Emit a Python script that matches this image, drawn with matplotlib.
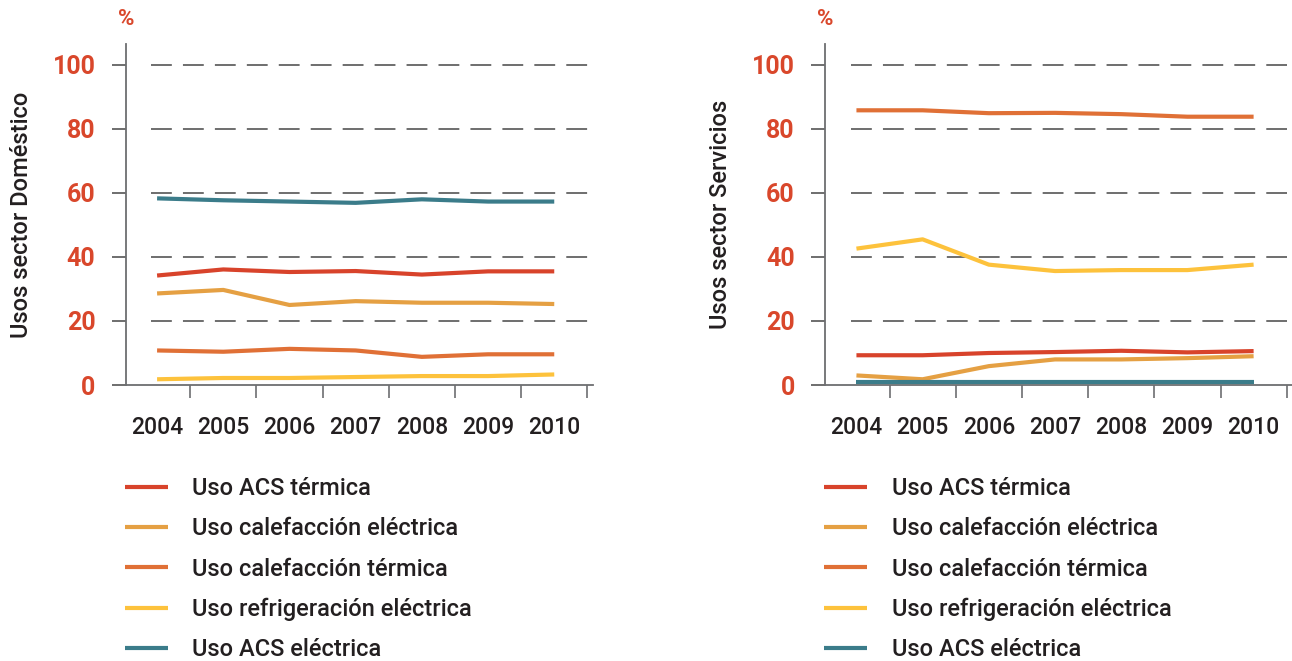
import numpy as np
import matplotlib.pyplot as plt

plt.rcParams['font.family'] = ['Roboto', 'DejaVu Sans']
plt.rcParams['lines.scale_dashes'] = False

years = ['2004', '2005', '2006', '2007', '2008', '2009', '2010']
series_names = ['Uso ACS térmica', 'Uso calefacción eléctrica', 'Uso calefacción térmica',
                'Uso refrigeración eléctrica', 'Uso ACS eléctrica']
colors = ['#d8432b', '#e5a043', '#e07036', '#fdc23c', '#3b7c8a']

# Usos sector Doméstico (%)
dom_acs_termica = [34.2, 36.1, 35.3, 35.6, 34.5, 35.5, 35.5]
dom_calef_electrica = [28.6, 29.7, 25.0, 26.2, 25.7, 25.7, 25.3]
dom_calef_termica = [10.8, 10.4, 11.3, 10.8, 8.8, 9.6, 9.6]
dom_refrig_electrica = [1.8, 2.2, 2.2, 2.5, 2.8, 2.8, 3.3]
dom_acs_electrica = [58.3, 57.7, 57.3, 56.9, 58.0, 57.3, 57.3]

# Usos sector Servicios (%)
ser_acs_termica = [9.3, 9.3, 10.0, 10.3, 10.7, 10.2, 10.6]
ser_calef_electrica = [3.0, 1.8, 5.9, 8.0, 8.0, 8.4, 9.0]
ser_calef_termica = [85.8, 85.8, 84.9, 85.0, 84.6, 83.8, 83.8]
ser_refrig_electrica = [42.6, 45.5, 37.6, 35.6, 35.9, 35.9, 37.6]
ser_acs_electrica = [0.8, 0.8, 0.8, 0.8, 0.8, 0.8, 0.8]

y_ticks = [0, 20, 40, 60, 80, 100]

red = '#d9472b'
dark = '#231f20'
grid_col = '#555555'
axis_col = '#6d6e71'

fig = plt.figure(figsize=(12.92, 6.61), dpi=100)
ax1 = fig.add_axes([0.0975, 0.4175, 0.3612, 0.5159])
ax2 = fig.add_axes([0.6388, 0.4175, 0.3612, 0.5159])

panels = [
    (ax1, 'Usos sector Doméstico',
     [dom_acs_termica, dom_calef_electrica, dom_calef_termica, dom_refrig_electrica, dom_acs_electrica]),
    (ax2, 'Usos sector Servicios',
     [ser_acs_termica, ser_calef_electrica, ser_calef_termica, ser_refrig_electrica, ser_acs_electrica]),
]

x = np.arange(len(years))

for ax, ylabel, data in panels:
    for vals, name, col in zip(data, series_names, colors):
        ax.plot(x, vals, color=col, lw=3, label=name, solid_capstyle='butt', zorder=3)

    # dashed grid
    for yv in y_ticks[1:]:
        ax.axhline(yv, xmin=0.054, xmax=0.99, color=grid_col, lw=1.2,
                   linestyle=(0, (15, 8)), zorder=1)

    ax.set_xlim(-0.47, 6.58)
    ax.set_ylim(0, 106.5)

    for s in ['top', 'right']:
        ax.spines[s].set_visible(False)
    for s in ['left', 'bottom']:
        ax.spines[s].set_color(axis_col)
        ax.spines[s].set_linewidth(1.3)

    ax.set_yticks(y_ticks)
    ax.tick_params(axis='y', length=10, width=1.2, color=grid_col, pad=12,
                   labelsize=18, labelcolor=red)
    for lab in ax.get_yticklabels():
        lab.set_fontweight('bold')

    ax.set_xticks(x)
    ax.set_xticklabels(years, fontweight='medium')
    ax.tick_params(axis='x', which='major', length=0, pad=22, labelsize=16.5, labelcolor=dark)
    ax.set_xticks(list(x + 0.5), minor=True)
    ax.tick_params(axis='x', which='minor', length=9.5, width=1.2, color=axis_col)

    ax.set_ylabel(ylabel, fontsize=17, color=dark, fontweight='medium')
    ax.yaxis.set_label_coords(-0.2, 0.5)

    ax.text(0.0, 1.073, '%', transform=ax.transAxes, ha='center', va='center',
            fontsize=16, fontweight='bold', color=red)

    leg = ax.legend(loc='upper left', bbox_to_anchor=(-0.002, -0.27), frameon=False,
                    prop={'size': 17, 'weight': 'medium'}, handlelength=1.8, handletextpad=1.05,
                    labelspacing=0.73, borderpad=0, borderaxespad=0)
    for t in leg.get_texts():
        t.set_color(dark)

fig.savefig('out.png', dpi=100)
